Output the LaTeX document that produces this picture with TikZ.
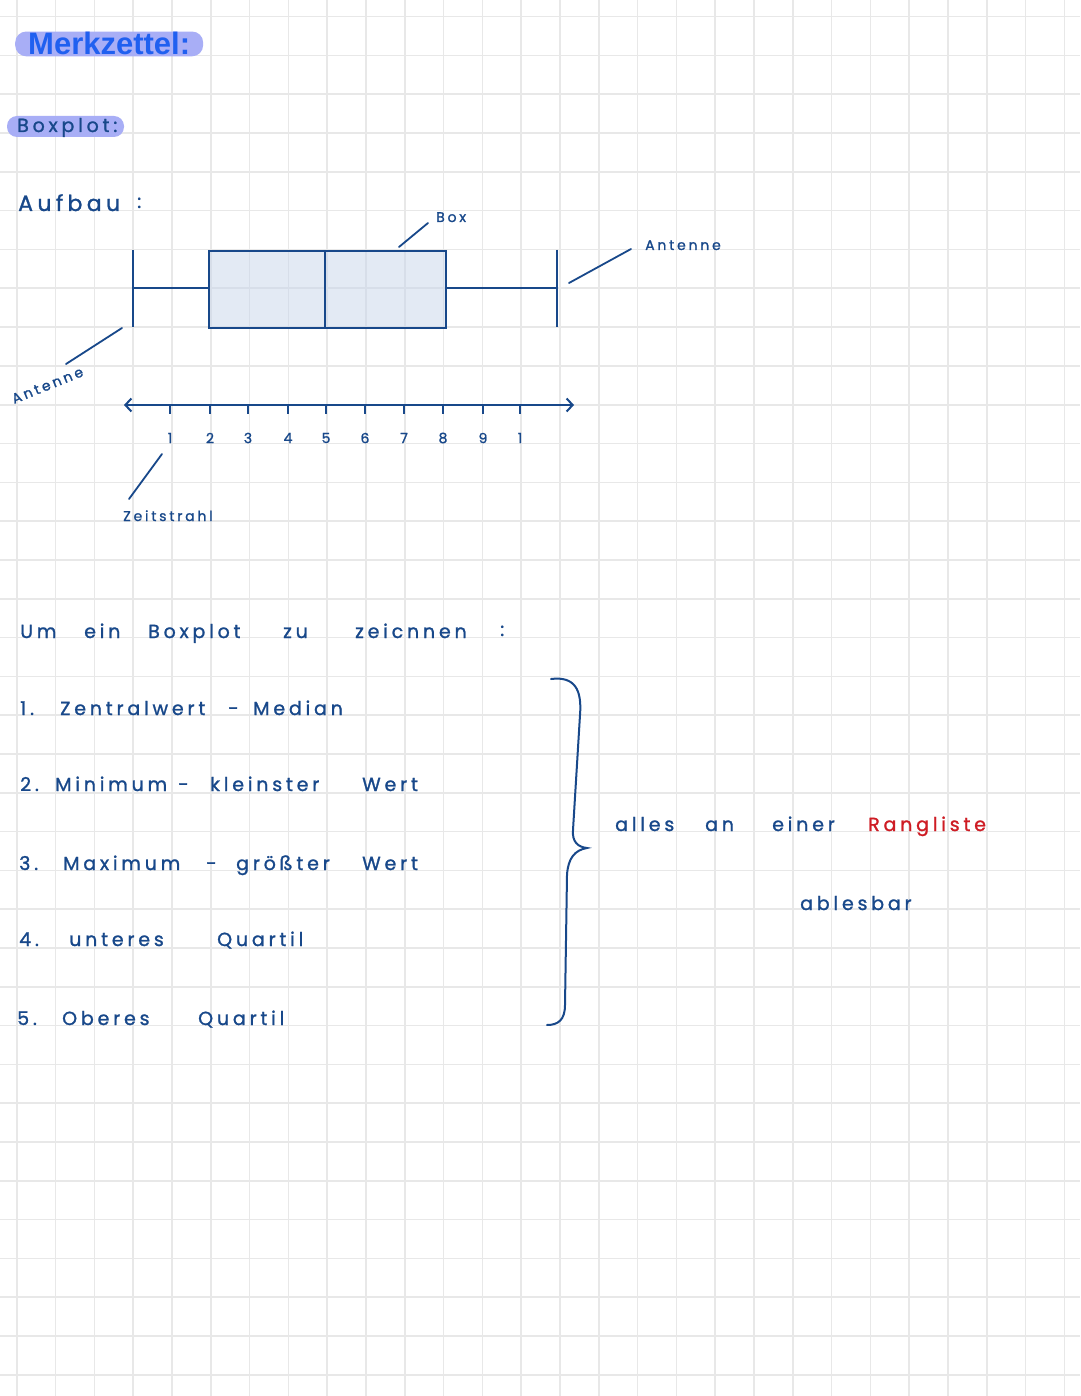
\documentclass[tikz,border=0pt]{standalone}
\usepackage{fontspec}
\setmainfont{Poppins}
\newfontfamily\hwfont{Poppins}[LetterSpace=20, FakeBold=1.2]
\newfontfamily\titlefont{Liberation Sans}
\usetikzlibrary{arrows.meta}

\definecolor{ink}{RGB}{24,72,138}
\definecolor{boxfill}{RGB}{200,214,234}
\definecolor{marker}{RGB}{168,174,246}
\definecolor{titleblue}{RGB}{32,96,240}
\definecolor{rankred}{RGB}{206,28,36}
\definecolor{gridgray}{RGB}{232,232,232}

\tikzset{
  gridline/.style={gridgray, line width=1.6pt},
  hw/.style={font=\hwfont\fontsize{19}{22}\selectfont, text=ink, inner sep=0pt, anchor=base west},
  smallhw/.style={font=\hwfont\fontsize{14}{16}\selectfont},
  pointer/.style={ink, line width=1.8pt, line cap=round},
  boxline/.style={ink, line width=2.6pt},
}

\begin{document}
\begin{tikzpicture}[x=1pt, y=-1pt]
  % paper with squares
  \fill[white] (0,0) rectangle (1080,1396);
  \useasboundingbox (0,0) rectangle (1080,1396);
  \foreach \i in {0,...,27} \draw[gridline] (16.7+38.8*\i,0) -- (16.7+38.8*\i,1396);
  \foreach \j in {0,...,35} \draw[gridline] (0,16.7+38.8*\j) -- (1080,16.7+38.8*\j);

  % headings
  \node[hw, font=\titlefont\bfseries\fontsize{31}{34}\selectfont, text=titleblue,
        fill=marker, rounded corners=11pt, inner xsep=13pt, inner ysep=1pt] (title) at (15,55) {Merkzettel:};
  \fill[marker, rounded corners=10pt] (7,116) rectangle (124,137);
  \node[hw] (boxplot) at (17,132) {Boxplot:};
  \node[hw, font=\hwfont\fontsize{22}{25}\selectfont] (aufbau) at (18,211) {Aufbau};
  \node[hw] (aufcolon) at (137,208) {:};

  % the boxplot
  \coordinate (wl) at (133,288);
  \coordinate (q1) at (209,288);
  \coordinate (q3) at (446,288);
  \coordinate (wr) at (557,288);
  \draw[boxline, fill=boxfill, fill opacity=0.5] (209,251) rectangle (446,328);
  \draw[boxline] (325,251) -- (325,328);
  \draw[boxline] (133,250) -- (133,327) (wl) -- (q1) (q3) -- (wr) (557,250) -- (557,327);

  \node[hw, smallhw] (boxlbl) at (436,222) {Box};
  \coordinate (boxptr) at (399,247);
  \coordinate (boxend) at (428,223);
  \draw[pointer] (boxptr) -- (boxend);

  \node[hw, smallhw] (antr) at (645,250) {Antenne};
  \coordinate (antrA) at (569,283);
  \coordinate (antrB) at (631,249);
  \draw[pointer] (antrA) -- (antrB);

  \node[hw, smallhw, rotate=22] (antl) at (14,404) {Antenne};
  \coordinate (antlA) at (66,364);
  \coordinate (antlB) at (122,328);
  \draw[pointer] (antlA) -- (antlB);

  % number line
  \coordinate (axl) at (124,405);
  \coordinate (axr) at (574,405);
  \draw[ink, line width=2pt, {Straight Barb[length=6pt,width=13pt]}-{Straight Barb[length=6pt,width=13pt]}] (axl) -- (axr);
  \foreach \x/\lab [count=\i] in {170/1,210/2,248/3,288/4,326/5,365/6,404/7,443/8,483/9,520/1} {
    \draw[ink, line width=1.8pt] (\x,405) -- (\x,414);
    \node[hw, smallhw, anchor=center] (num\i) at (\x,438) {\lab};
  }
  \node[hw, smallhw] (zeit) at (123,521) {Zeitstrahl};
  \coordinate (zeitA) at (162,454);
  \coordinate (zeitB) at (129,499);
  \draw[pointer] (zeitA) -- (zeitB);

  % how to draw it
  \node[hw] (um) at (20,638) {Um};
  \node[hw] (ein) at (84,638) {ein};
  \node[hw] (bp) at (148,638) {Boxplot};
  \node[hw] (zu) at (283,638) {zu};
  \node[hw] (zeichnen) at (355,638) {zeicnnen};
  \node[hw] (umcolon) at (500,636) {:};

  \node[hw] (n1) at (20,715) {1.};
  \node[hw] (zentral) at (60,715) {Zentralwert};
  \node[hw] (dash1) at (228,715) {-};
  \node[hw] (median) at (253,715) {Median};

  \node[hw] (n2) at (20,791) {2.};
  \node[hw] (minimum) at (55,791) {Minimum};
  \node[hw] (dash2) at (178,791) {-};
  \node[hw] (kleinster) at (210,791) {kleinster};
  \node[hw] (wert2) at (362,791) {Wert};

  \node[hw] (n3) at (19,870) {3.};
  \node[hw] (maximum) at (63,870) {Maximum};
  \node[hw] (dash3) at (206,870) {-};
  \node[hw] (groesster) at (236,870) {größter};
  \node[hw] (wert3) at (362,870) {Wert};

  \node[hw] (n4) at (19,946) {4.};
  \node[hw] (unteres) at (69,946) {unteres};
  \node[hw] (quartil4) at (217,946) {Quartil};

  \node[hw] (n5) at (17,1025) {5.};
  \node[hw] (oberes) at (62,1025) {Oberes};
  \node[hw] (quartil5) at (198,1025) {Quartil};

  % brace
  \draw[ink, line width=2pt, line cap=round] (551,679) .. controls (575,676) and (582,690) .. (580,715)
    -- (573,830) .. controls (572,842) and (578,847) .. (587,848)
    .. controls (575,850) and (568,858) .. (567,875)
    -- (565,1005) .. controls (565,1020) and (558,1025) .. (547,1025);

  \node[hw] (alles) at (615,831) {alles};
  \node[hw] (an) at (705,831) {an};
  \node[hw] (einer) at (772,831) {einer};
  \node[hw, text=rankred] (rang) at (868,831) {Rangliste};
  \node[hw] (ablesbar) at (800,910) {ablesbar};
\end{tikzpicture}
\end{document}
